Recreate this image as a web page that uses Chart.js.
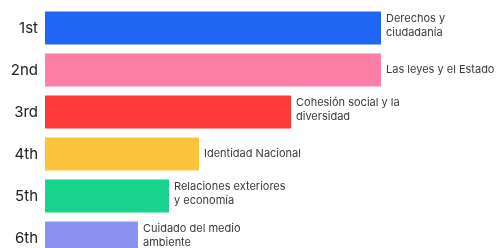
<!DOCTYPE html>
<html>
<head>
<meta charset="utf-8">
<script src="https://cdn.jsdelivr.net/npm/chart.js@4"></script>
<style>
html,body{margin:0;padding:0;background:#fff;overflow:hidden;}
canvas{display:block;}
</style>
</head>
<body>
<canvas id="c" width="500" height="262" style="width:500px;height:262px;"></canvas>
<script>
const categories = ["1st", "2nd", "3rd", "4th", "5th", "6th"];
const values = [336, 336, 246, 154, 124, 93];
const topicLabels = [
  ["Derechos y", "ciudadanía"],
  ["Las leyes y el Estado"],
  ["Cohesión social y la", "diversidad"],
  ["Identidad Nacional"],
  ["Relaciones exteriores", "y economía"],
  ["Cuidado del medio", "ambiente"]
];
const barColors = ["#1f66f4", "#fd7fa6", "#fb3a37", "#fcc33d", "#17d38b", "#8b93f1"];

const endLabels = {
  id: "endLabels",
  afterDatasetsDraw(chart) {
    const ctx = chart.ctx;
    const meta = chart.getDatasetMeta(0);
    ctx.save();
    ctx.font = "11px Inter, 'Noto Sans', sans-serif";
    ctx.fillStyle = "#3a3a3a";
    ctx.textBaseline = "middle";
    ctx.textAlign = "left";
    meta.data.forEach((bar, i) => {
      const lines = topicLabels[i];
      const lh = 14;
      const y0 = bar.y - (lines.length - 1) * lh / 2 - (lines.length > 1 ? 2 : 0);
      lines.forEach((t, j) => ctx.fillText(t, bar.x + 5, y0 + j * lh));
    });
    ctx.restore();
  }
};

new Chart(document.getElementById("c"), {
  type: "bar",
  data: {
    labels: categories,
    datasets: [{
      data: values,
      backgroundColor: barColors,
      borderWidth: 0,
      categoryPercentage: 0.79,
      barPercentage: 1.0
    }]
  },
  options: {
    indexAxis: "y",
    responsive: false,
    devicePixelRatio: 1,
    animation: false,
    layout: { padding: { top: 7, bottom: 3, left: 0, right: 0 } },
    plugins: { legend: { display: false }, tooltip: { enabled: false } },
    scales: {
      x: { display: false, min: 0, max: 455 },
      y: {
        grid: { display: false, drawTicks: false },
        border: { display: false },
        ticks: {
          color: "#222",
          font: { size: 15, family: "Inter, 'Noto Sans', sans-serif" },
          padding: 7
        },
        afterFit(scale) {
          scale.width = 45;
          scale.paddingTop = 0;
          scale.paddingBottom = 0;
        }
      }
    }
  },
  plugins: [endLabels]
});
</script>
</body>
</html>
